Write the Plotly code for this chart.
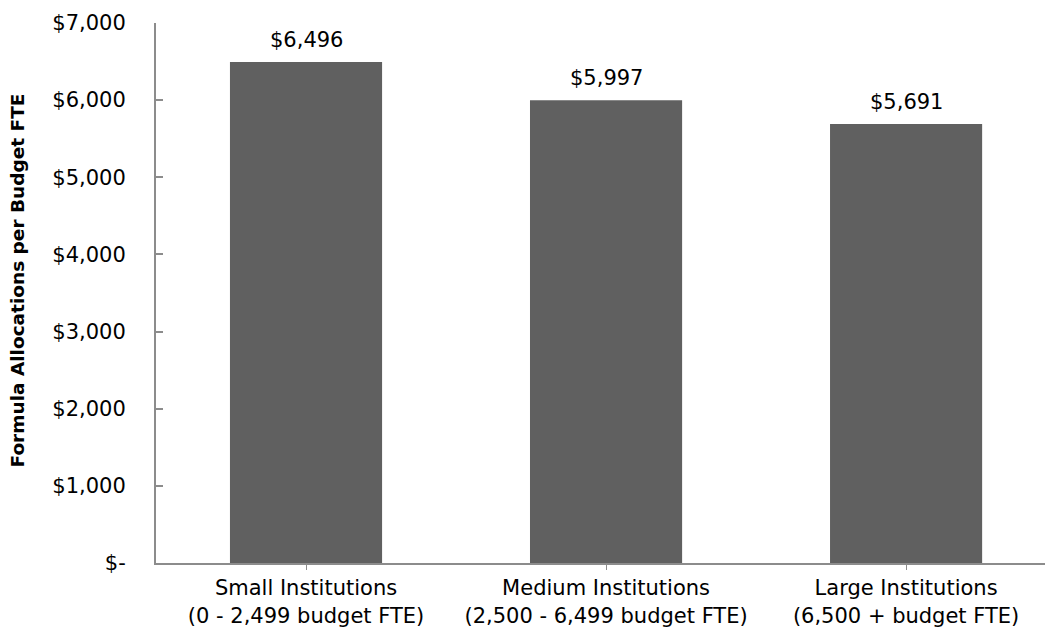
import plotly.graph_objects as go

categories = ["Small Institutions<br>(0 - 2,499 budget FTE)",
              "Medium Institutions<br>(2,500 - 6,499 budget FTE)",
              "Large Institutions<br>(6,500 + budget FTE)"]
values = [6496, 5997, 5691]
value_labels = ["$6,496", "$5,997", "$5,691"]
y_tickvals = [0, 1000, 2000, 3000, 4000, 5000, 6000, 7000]
y_ticktext = ["$-", "$1,000", "$2,000", "$3,000", "$4,000", "$5,000", "$6,000", "$7,000"]
y_title = "Formula Allocations per Budget FTE"

FONT = "DejaVu Sans"
FS = 21
AXIS = "#8c8c8c"

fig = go.Figure()
fig.add_trace(go.Bar(x=[0, 1, 2], y=values, marker=dict(color="#606060", line=dict(width=0)),
                     width=0.507, hoverinfo="skip"))

for i, (v, t) in enumerate(zip(values, value_labels)):
    fig.add_annotation(x=i, y=v, text=t, showarrow=False, yanchor="bottom", yshift=8,
                       font=dict(family=FONT, size=FS, color="#000"))

fig.add_annotation(xref="paper", yref="paper", x=0, y=0.5, xshift=-152, yshift=12,
                   text="<b>" + y_title + "</b>", textangle=-90, showarrow=False,
                   font=dict(family=FONT, size=18.5, color="#000"))

fig.update_layout(
    width=1045, height=629,
    margin=dict(l=156, r=0, t=23, b=66),
    plot_bgcolor="white", paper_bgcolor="white",
    showlegend=False,
    font=dict(family=FONT, size=FS, color="#000"),
)
fig.update_xaxes(range=[-0.5, 2.463], tickvals=[0, 1, 2], ticktext=categories,
                 tickson="boundaries", ticks="outside", ticklen=5, tickcolor=AXIS,
                 showline=True, linecolor=AXIS, linewidth=2, showgrid=False,
                 tickfont=dict(family=FONT, size=FS, color="#000"), zeroline=False)
fig.update_yaxes(range=[0, 7000], tickvals=y_tickvals, ticktext=y_ticktext,
                 ticks="inside", ticklen=7, tickcolor=AXIS, tickwidth=2,
                 showline=True, linecolor=AXIS, linewidth=2, showgrid=False,
                 zeroline=False, ticklabelstandoff=24,
                 tickfont=dict(family=FONT, size=FS, color="#000"))

fig.write_html("out.html")
